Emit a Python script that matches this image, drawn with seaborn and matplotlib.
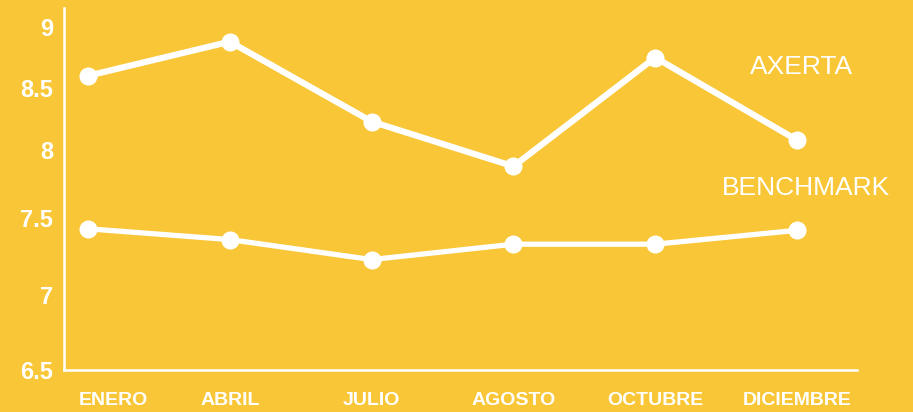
import numpy as np
import pandas as pd
import seaborn as sns
import matplotlib
matplotlib.use('Agg')
import matplotlib.pyplot as plt
import matplotlib.transforms as mtransforms

# --- datos ---
meses = ['ENERO', 'ABRIL', 'JULIO', 'AGOSTO', 'OCTUBRE', 'DICIEMBRE']
axerta = [8.60, 8.88, 8.23, 7.88, 8.75, 8.08]
benchmark = [7.43, 7.36, 7.23, 7.33, 7.33, 7.42]
y_ticks = [6.5, 7, 7.5, 8, 8.5, 9]
y_labels = ['6.5', '7', '7.5', '8', '8.5', '9']

# el eje original no es lineal: posición visual de cada marca
y_marcas = [6.0, 6.5, 7.0, 7.5, 8.0, 8.5, 9.0, 10.0]
y_pos = [-75, 0, 75, 152, 220, 282, 343, 465]

def fwd(v):
    return np.interp(v, y_marcas, y_pos)

def inv(p):
    return np.interp(p, y_pos, y_marcas)

fondo = '#F8C636'
blanco = 'white'

df = pd.DataFrame({'mes': meses, 'axerta': axerta, 'benchmark': benchmark})
df['x'] = range(len(meses))

sns.set_style('white')
plt.rcParams['font.family'] = ['Liberation Sans', 'DejaVu Sans']

fig = plt.figure(figsize=(9.13, 4.12), dpi=100, facecolor=fondo)
ax = fig.add_axes([64 / 913, 1 - 370 / 412, (857 - 64) / 913, (370 - 8) / 412])
ax.set_facecolor(fondo)

sns.lineplot(data=df, x='x', y='axerta', ax=ax, color=blanco, linewidth=4.5,
             marker='o', markersize=13, markeredgewidth=0)
sns.lineplot(data=df, x='x', y='benchmark', ax=ax, color=blanco, linewidth=3.8,
             marker='o', markersize=13, markeredgewidth=0)

ax.set_yscale('function', functions=(fwd, inv))
ax.set_ylim(6.5, 9.156)
ax.set_xlim(-0.169, 5.423)

ax.set_yticks(y_ticks)
ax.set_yticklabels(y_labels)
ax.set_xticks(df['x'])
ax.set_xticklabels(meses)
ax.minorticks_off()
ax.tick_params(axis='y', length=0, pad=8, labelsize=17, labelcolor=blanco)
ax.tick_params(axis='x', length=0, pad=16, labelsize=14, labelcolor=blanco)
for lab in ax.get_yticklabels() + ax.get_xticklabels():
    lab.set_fontweight('bold')

ax.set_xlabel('')
ax.set_ylabel('')

for lado in ['top', 'right']:
    ax.spines[lado].set_visible(False)
for lado in ['left', 'bottom']:
    ax.spines[lado].set_color(blanco)
    ax.spines[lado].set_linewidth(1.8)

# nombres de las series
ax.text(5.03, 8.67, 'AXERTA', color=blanco, fontsize=19, ha='center', va='center')
ax.text(5.06, 7.72, 'BENCHMARK', color=blanco, fontsize=19, ha='center', va='center')

# ENERO aparece desplazado a la derecha en el original
primera = ax.get_xticklabels()[0]
primera.set_transform(primera.get_transform() +
                      mtransforms.ScaledTranslation(0.25, 0, fig.dpi_scale_trans))

fig.savefig('out.png', dpi=100, facecolor=fondo)
